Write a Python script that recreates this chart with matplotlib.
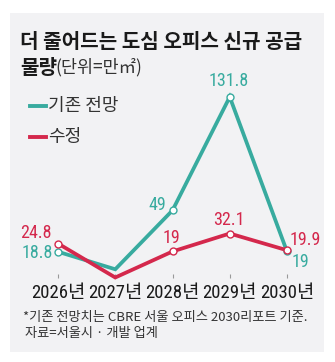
import matplotlib
matplotlib.use('Agg')
import matplotlib.pyplot as plt
from matplotlib import font_manager
from matplotlib.patches import Rectangle

# data
years = ['2026년', '2027년', '2028년', '2029년', '2030년']
forecast = [18.8, 6, 49, 131.8, 19]          # 기존 전망
revised = [24.8, 0, 19, 32.1, 19.9]          # 수정
forecast_labels = ['18.8', '', '49', '131.8', '19']
revised_labels = ['24.8', '', '19', '32.1', '19.9']

TEAL = '#38ab9f'
RED = '#d4284c'
BG = '#f2f2f4'

W, H = 335, 362
names = {f.name for f in font_manager.fontManager.ttflist}
num_font = 'Liberation Sans'
for cand in ['Roboto Condensed', 'Archivo Narrow', 'Liberation Sans Narrow']:
    if cand in names:
        num_font = cand
        break
KR = 'Noto Sans CJK KR'
plt.rcParams['font.family'] = [KR, 'DejaVu Sans']

fig = plt.figure(figsize=(W / 100, H / 100), dpi=100)
fig.patch.set_facecolor('white')


def fx(px):
    return px / W


def fy(py):
    return 1 - py / H


# grey panel
fig.patches.append(Rectangle((fx(10), fy(352)), fx(314), (352 - 13) / H,
                             transform=fig.transFigure, facecolor=BG,
                             edgecolor='none', zorder=-5))

# titles
fig.text(fx(20), fy(41), '더 줄어드는 도심 오피스 신규 공급', fontsize=14.5,
         fontweight='bold', color='#1a1a1a', va='center', ha='left')
fig.text(fx(20), fy(67), '물량', fontsize=14.5, fontweight='bold',
         color='#1a1a1a', va='center', ha='left')
fig.text(fx(55), fy(67), '(단위=만㎡)', fontsize=12.5, color='#333333',
         va='center', ha='left')

# legend
fig.lines.append(plt.Line2D([fx(30), fx(46)], [fy(106), fy(106)],
                            transform=fig.transFigure, color=TEAL, lw=2.8))
fig.text(fx(48), fy(106), '기존 전망', fontsize=13, color='#333333', va='center')
fig.lines.append(plt.Line2D([fx(30), fx(46)], [fy(137), fy(137)],
                            transform=fig.transFigure, color=RED, lw=2.8))
fig.text(fx(48), fy(137), '수정', fontsize=13, color='#333333', va='center')

# plot area
left, right, top, bottom = 29.4, 315.6, 60, 277.5
ax = fig.add_axes([fx(left), fy(bottom), (right - left) / W, (bottom - top) / H])
ax.set_zorder(5)
ax.set_facecolor('none')
ax.set_xlim(-0.5, 4.5)
ax.set_ylim(0, (bottom - top) / 1.37)
for s in ax.spines.values():
    s.set_visible(False)
ax.set_yticks([])

xs = list(range(len(years)))
ax.plot(xs, forecast, color=TEAL, lw=2.7, clip_on=False, zorder=3,
        solid_joinstyle='miter')
ax.plot(xs, revised, color=RED, lw=2.7, clip_on=False, zorder=4,
        solid_joinstyle='miter')
for i in xs:
    if forecast_labels[i]:
        ax.plot(i, forecast[i], 'o', ms=5, mfc='white', mec=TEAL, mew=1.0,
                zorder=5, clip_on=False)
    if revised_labels[i]:
        ax.plot(i, revised[i], 'o', ms=5, mfc='white', mec=RED, mew=1.0,
                zorder=6, clip_on=False)

# value label offsets (pixels)
f_off = [(-21, -1), None, (-15, 5), (-1, 16), (13, -11)]
r_off = [(-22, 11), None, (-1, 13), (-1, 14), (18, 10)]
for i in xs:
    if forecast_labels[i]:
        ax.annotate(forecast_labels[i], (i, forecast[i]), xytext=f_off[i],
                    textcoords='offset pixels', ha='center', va='center',
                    fontsize=13, color=TEAL, family=num_font)
    if revised_labels[i]:
        ax.annotate(revised_labels[i], (i, revised[i]), xytext=r_off[i],
                    textcoords='offset pixels', ha='center', va='center',
                    fontsize=13, color=RED, family=num_font)

ax.set_xticks(xs)
ax.set_xticklabels(years, fontsize=13.5, color='#1a1a1a', family=[num_font, KR])
ax.tick_params(axis='x', direction='in', length=3, width=0.8, color='#999999',
               pad=5)

# footnote
fig.text(fx(23), fy(317), '*기존 전망치는 CBRE 서울 오피스 2030리포트 기준.',
         fontsize=9.5, color='#333333', va='center', ha='left')
fig.text(fx(25), fy(334), '자료=서울시 · 개발 업계', fontsize=9.5,
         color='#333333', va='center', ha='left')

fig.savefig('out.png', dpi=100, facecolor='white')
